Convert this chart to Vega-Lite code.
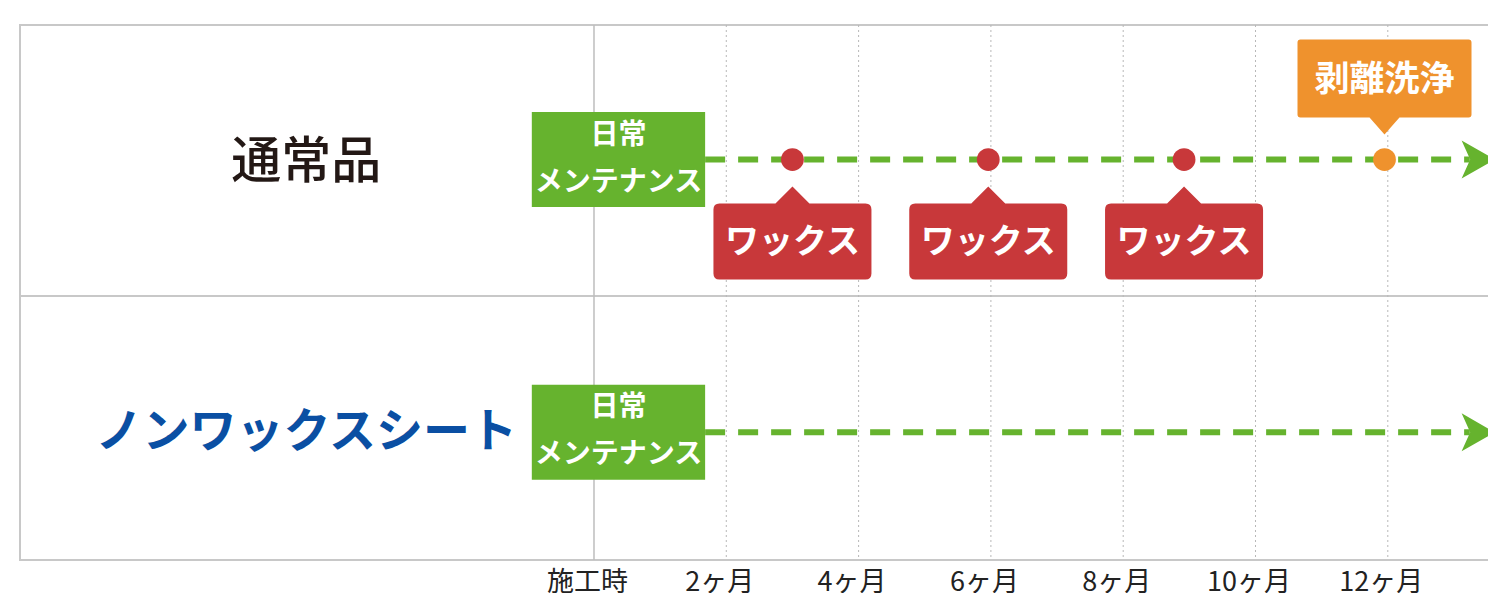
{
  "$schema": "https://vega.github.io/schema/vega-lite/v6.json",
  "width": 1480,
  "height": 535,
  "padding": {"left": 20, "top": 25, "right": 0, "bottom": 33},
  "autosize": {"type": "none"},
  "background": "white",
  "config": {
    "view": {"stroke": "#c8c8c8", "strokeWidth": 2},
    "font": "Noto Sans CJK JP",
    "text": {"font": "Noto Sans CJK JP"},
    "axisX": {
      "domain": false, "ticks": false, "grid": false,
      "labelFontSize": 27, "labelColor": "#222222", "labelFont": "Noto Sans CJK JP",
      "labelPadding": 9, "labelOffset": -7, "labelOverlap": false, "labelFlush": false, "labelBound": false,
      "labelBaseline": "top", "labelAlign": "center"
    }
  },
  "datasets": {
    "rows": [
      {"item": "通常品", "lane": 2, "labelAt": -4.35, "mFrom": -0.94, "mTo": 1.68, "mMid": 0.37, "lineEnd": 13.24, "arrowAt": 13.36, "maint": "日常\nメンテナンス"},
      {"item": "ノンワックスシート", "lane": 1, "labelAt": -4.35, "mFrom": -0.94, "mTo": 1.68, "mMid": 0.37, "lineEnd": 13.24, "arrowAt": 13.36, "maint": "日常\nメンテナンス"}
    ],
    "events": [
      {"lane": 2, "month": 3.0, "task": "ワックス"},
      {"lane": 2, "month": 5.96, "task": "ワックス"},
      {"lane": 2, "month": 8.92, "task": "ワックス"},
      {"lane": 2, "month": 11.95, "task": "剥離洗浄"}
    ],
    "grid": [
      {"month": 0}, {"month": 2}, {"month": 4}, {"month": 6}, {"month": 8}, {"month": 10}, {"month": 12}
    ],
    "divider": [{"lane": 1.5}]
  },
  "layer": [
    {
      "data": {"name": "divider"},
      "mark": {"type": "rule", "color": "#c8c8c8", "strokeWidth": 2},
      "encoding": {
        "y": {"field": "lane", "type": "quantitative", "scale": {"domain": [0.5504, 2.4748], "nice": false, "zero": false}, "axis": null}
      }
    },
    {
      "data": {"name": "grid"},
      "transform": [{"filter": "datum.month > 0"}],
      "mark": {"type": "rule", "color": "#b8b8b8", "strokeWidth": 1, "strokeDash": [2, 3]},
      "encoding": {
        "x": {"field": "month", "type": "quantitative", "title": null, "scale": {"domain": [-8.677, 13.696], "nice": false, "zero": false}}
      }
    },
    {
      "data": {"name": "grid"},
      "transform": [{"filter": "datum.month == 0"}],
      "mark": {"type": "rule", "color": "#bdbdbd", "strokeWidth": 1.5},
      "encoding": {
        "x": {"field": "month", "type": "quantitative", "title": null, "scale": {"domain": [-8.677, 13.696], "nice": false, "zero": false},
          "axis": {
            "values": [0, 2, 4, 6, 8, 10, 12],
            "labelExpr": "datum.value == 0 ? '施工時' : datum.value + 'ヶ月'",
            "title": null
          }
        }
      }
    },
    {
      "data": {"name": "rows"},
      "mark": {"type": "rule", "color": "#66b32e", "strokeWidth": 6, "strokeDash": [20, 13]},
      "encoding": {
        "x": {"field": "mTo", "type": "quantitative", "title": null, "scale": {"domain": [-8.677, 13.696], "nice": false, "zero": false}},
        "x2": {"field": "lineEnd"},
        "y": {"field": "lane", "type": "quantitative", "scale": {"domain": [0.5504, 2.4748], "nice": false, "zero": false}, "axis": null}
      }
    },
    {
      "data": {"name": "rows"},
      "mark": {"type": "point", "filled": true, "opacity": 1, "color": "#66b32e", "size": 1444, "strokeWidth": 0, "shape": "M-0.85,-1 L0.9,0 L-0.85,1 L-0.4,0 Z"},
      "encoding": {
        "x": {"field": "arrowAt", "type": "quantitative", "title": null, "scale": {"domain": [-8.677, 13.696], "nice": false, "zero": false}},
        "y": {"field": "lane", "type": "quantitative", "scale": {"domain": [0.5504, 2.4748], "nice": false, "zero": false}, "axis": null}
      }
    },
    {
      "data": {"name": "rows"},
      "mark": {"type": "bar", "orient": "horizontal", "color": "#66b32e", "size": 95, "cornerRadius": 0},
      "encoding": {
        "x": {"field": "mFrom", "type": "quantitative", "title": null, "scale": {"domain": [-8.677, 13.696], "nice": false, "zero": false}},
        "x2": {"field": "mTo"},
        "y": {"field": "lane", "type": "quantitative", "scale": {"domain": [0.5504, 2.4748], "nice": false, "zero": false}, "axis": null}
      }
    },
    {
      "data": {"name": "rows"},
      "mark": {"type": "text", "color": "white", "fontSize": 28, "fontWeight": "bold", "lineBreak": "\n", "lineHeight": 47, "align": "center", "baseline": "middle", "dy": -24},
      "encoding": {
        "x": {"field": "mMid", "type": "quantitative", "title": null, "scale": {"domain": [-8.677, 13.696], "nice": false, "zero": false}},
        "y": {"field": "lane", "type": "quantitative", "scale": {"domain": [0.5504, 2.4748], "nice": false, "zero": false}, "axis": null},
        "text": {"field": "maint"}
      }
    },
    {
      "data": {"name": "rows"},
      "transform": [{"filter": "datum.item == '通常品'"}],
      "mark": {"type": "text", "color": "#231815", "fontSize": 50, "fontWeight": 500, "align": "center", "baseline": "middle", "dy": 3},
      "encoding": {
        "x": {"field": "labelAt", "type": "quantitative", "title": null, "scale": {"domain": [-8.677, 13.696], "nice": false, "zero": false}},
        "y": {"field": "lane", "type": "quantitative", "scale": {"domain": [0.5504, 2.4748], "nice": false, "zero": false}, "axis": null},
        "text": {"field": "item"}
      }
    },
    {
      "data": {"name": "rows"},
      "transform": [{"filter": "datum.item == 'ノンワックスシート'"}],
      "mark": {"type": "text", "color": "#0a4fa3", "fontSize": 47, "fontWeight": "bold", "align": "center", "baseline": "middle", "dy": 1},
      "encoding": {
        "x": {"field": "labelAt", "type": "quantitative", "title": null, "scale": {"domain": [-8.677, 13.696], "nice": false, "zero": false}},
        "y": {"field": "lane", "type": "quantitative", "scale": {"domain": [0.5504, 2.4748], "nice": false, "zero": false}, "axis": null},
        "text": {"field": "item"}
      }
    },
    {
      "data": {"name": "events"},
      "transform": [{"filter": "datum.task == 'ワックス'"}],
      "mark": {"type": "point", "filled": true, "opacity": 1, "color": "#c8383a", "size": 24964, "strokeWidth": 0,
        "shape": "M-0.924,0.557 L-0.215,0.557 L0,0.342 L0.215,0.557 L0.924,0.557 Q1,0.557 1,0.633 L1,1.443 Q1,1.519 0.924,1.519 L-0.924,1.519 Q-1,1.519 -1,1.443 L-1,0.633 Q-1,0.557 -0.924,0.557 Z"},
      "encoding": {
        "x": {"field": "month", "type": "quantitative", "title": null, "scale": {"domain": [-8.677, 13.696], "nice": false, "zero": false}},
        "y": {"field": "lane", "type": "quantitative", "scale": {"domain": [0.5504, 2.4748], "nice": false, "zero": false}, "axis": null}
      }
    },
    {
      "data": {"name": "events"},
      "transform": [{"filter": "datum.task == 'ワックス'"}],
      "mark": {"type": "text", "color": "white", "fontSize": 34, "fontWeight": "bold", "align": "center", "baseline": "middle", "dy": 83},
      "encoding": {
        "x": {"field": "month", "type": "quantitative", "title": null, "scale": {"domain": [-8.677, 13.696], "nice": false, "zero": false}},
        "y": {"field": "lane", "type": "quantitative", "scale": {"domain": [0.5504, 2.4748], "nice": false, "zero": false}, "axis": null},
        "text": {"field": "task"}
      }
    },
    {
      "data": {"name": "events"},
      "transform": [{"filter": "datum.task == '剥離洗浄'"}],
      "mark": {"type": "point", "filled": true, "opacity": 1, "color": "#ef922d", "size": 30276, "strokeWidth": 0,
        "shape": "M-0.966,-1.379 L0.966,-1.379 Q1,-1.379 1,-1.345 L1,-0.517 Q1,-0.483 0.966,-0.483 L0.172,-0.483 L0,-0.287 L-0.172,-0.483 L-0.966,-0.483 Q-1,-0.483 -1,-0.517 L-1,-1.345 Q-1,-1.379 -0.966,-1.379 Z"},
      "encoding": {
        "x": {"field": "month", "type": "quantitative", "title": null, "scale": {"domain": [-8.677, 13.696], "nice": false, "zero": false}},
        "y": {"field": "lane", "type": "quantitative", "scale": {"domain": [0.5504, 2.4748], "nice": false, "zero": false}, "axis": null}
      }
    },
    {
      "data": {"name": "events"},
      "transform": [{"filter": "datum.task == '剥離洗浄'"}],
      "mark": {"type": "text", "color": "white", "fontSize": 35, "fontWeight": "bold", "align": "center", "baseline": "middle", "dy": -80},
      "encoding": {
        "x": {"field": "month", "type": "quantitative", "title": null, "scale": {"domain": [-8.677, 13.696], "nice": false, "zero": false}},
        "y": {"field": "lane", "type": "quantitative", "scale": {"domain": [0.5504, 2.4748], "nice": false, "zero": false}, "axis": null},
        "text": {"field": "task"}
      }
    },
    {
      "data": {"name": "events"},
      "mark": {"type": "point", "filled": true, "opacity": 1, "size": 520, "shape": "circle", "strokeWidth": 0},
      "encoding": {
        "x": {"field": "month", "type": "quantitative", "title": null, "scale": {"domain": [-8.677, 13.696], "nice": false, "zero": false}},
        "y": {"field": "lane", "type": "quantitative", "scale": {"domain": [0.5504, 2.4748], "nice": false, "zero": false}, "axis": null},
        "color": {"field": "task", "type": "nominal", "scale": {"domain": ["ワックス", "剥離洗浄"], "range": ["#c8383a", "#ef922d"]}, "legend": null}
      }
    }
  ]
}
